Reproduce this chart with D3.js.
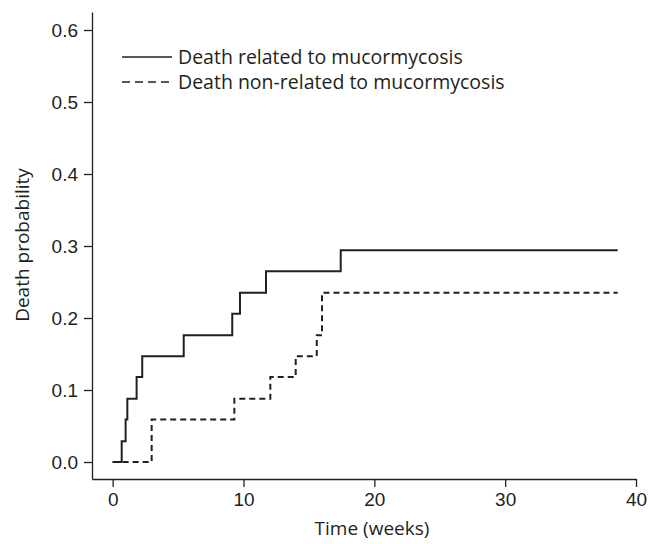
<!DOCTYPE html>
<html>
<head>
<meta charset="utf-8">
<script src="https://cdn.jsdelivr.net/npm/d3@7"></script>
<style>
  body { margin: 0; background: #fff; }
  svg { font-family: "Open Sans", sans-serif; }
  .tick text { font-size: 19px; fill: #231f20; }
  .tick line, .domain { stroke: #231f20; stroke-width: 1.3; }
</style>
</head>
<body>
<svg></svg>
<script>
const svgWidth = 648;
const svgHeight = 544;

// Step points (weeks, probability)
const relatedTimes = [0, 0.69, 0.99, 1.12, 1.83, 2.26, 5.43, 9.14, 9.73, 11.72, 17.43, 38.6];
const relatedProb = [0, 0.029, 0.059, 0.088, 0.118, 0.147, 0.176, 0.206, 0.235, 0.265, 0.294, 0.294];
const nonRelatedTimes = [0, 2.98, 9.3, 12.05, 13.99, 15.6, 16.0, 38.6];
const nonRelatedProb = [0, 0.059, 0.088, 0.118, 0.147, 0.176, 0.235, 0.235];

const xTicks = [0, 10, 20, 30, 40];
const yTicks = [0, 0.1, 0.2, 0.3, 0.4, 0.5, 0.6];
const seriesNames = ["Death related to mucormycosis", "Death non-related to mucormycosis"];

const svg = d3.select("svg")
    .attr("width", svgWidth)
    .attr("height", svgHeight);

const ink = "#231f20";

// Scales (axis lines run a bit past the outer ticks, like the original)
const xScale = d3.scaleLinear().domain([-1.58, 40]).range([92, 636]);
const yScale = d3.scaleLinear().domain([-0.0236, 0.625]).range([479, 12]);

// Axes
svg.append("g")
    .attr("transform", "translate(0,479)")
    .call(d3.axisBottom(xScale).tickValues(xTicks).tickSize(8).tickSizeOuter(0).tickPadding(5))
    .call(g => g.selectAll("text").attr("dy", "0.72em"));

svg.append("g")
    .attr("transform", "translate(92,0)")
    .call(d3.axisLeft(yScale).tickValues(yTicks).tickSize(8).tickSizeOuter(0).tickPadding(6)
        .tickFormat(d3.format(".1f")));

// Curves
const line = d3.line()
    .x(d => xScale(d[0]))
    .y(d => yScale(d[1]))
    .curve(d3.curveStepAfter);

svg.append("path")
    .datum(d3.zip(relatedTimes, relatedProb))
    .attr("fill", "none")
    .attr("stroke", ink)
    .attr("stroke-width", 2)
    .attr("d", line);

svg.append("path")
    .datum(d3.zip(nonRelatedTimes, nonRelatedProb))
    .attr("fill", "none")
    .attr("stroke", ink)
    .attr("stroke-width", 2)
    .attr("stroke-dasharray", "6,4")
    .attr("d", line);

// Legend
const legend = svg.append("g").attr("transform", "translate(122,57)");
seriesNames.forEach((name, i) => {
    legend.append("line")
        .attr("x1", 0).attr("x2", 50)
        .attr("y1", i * 25).attr("y2", i * 25)
        .attr("stroke", ink)
        .attr("stroke-width", 1.6)
        .attr("stroke-dasharray", i === 1 ? "8,5" : null);
    legend.append("text")
        .attr("x", 56)
        .attr("y", i * 25)
        .attr("dy", "0.35em")
        .style("font-size", "19.5px")
        .style("fill", ink)
        .text(name);
});

// Axis labels
svg.append("text")
    .attr("x", 372)
    .attr("y", 535)
    .style("text-anchor", "middle")
    .style("font-size", "19px")
    .style("fill", ink)
    .text("Time (weeks)");

svg.append("text")
    .attr("transform", "rotate(-90)")
    .attr("x", -245)
    .attr("y", 29)
    .style("text-anchor", "middle")
    .style("font-size", "19px")
    .style("fill", ink)
    .text("Death probability");
</script>
</body>
</html>
